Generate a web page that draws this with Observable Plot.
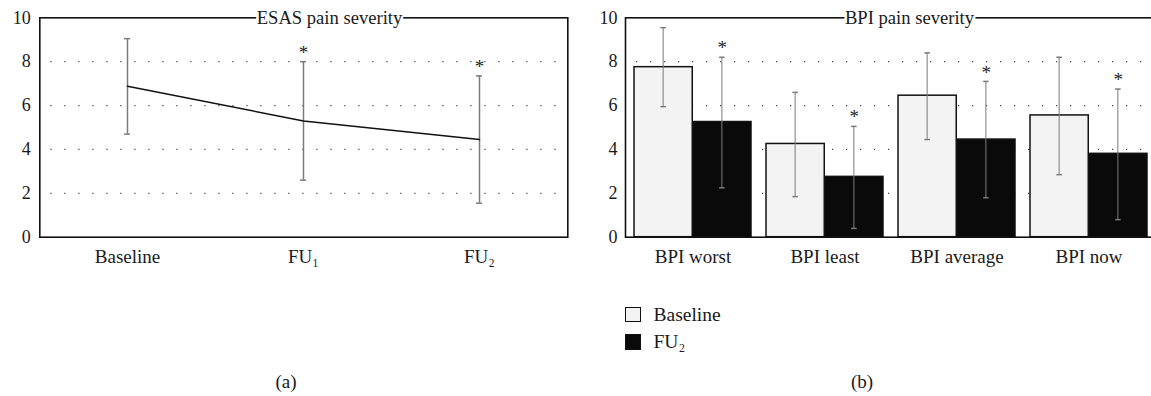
<!DOCTYPE html>
<html>
<head>
<meta charset="utf-8">
<script src="https://cdn.jsdelivr.net/npm/d3@7"></script>
<script src="https://cdn.jsdelivr.net/npm/@observablehq/plot@0.6"></script>
<style>
  html, body { margin: 0; padding: 0; background: #fff; }
  #wrap { position: relative; width: 1151px; height: 396px; overflow: hidden; font-family: "Liberation Serif", serif; color: #1a1a1a; }
  .panel { position: absolute; top: 0; }
  .panel svg { max-width: none !important; }
  .ptitle { position: absolute; background: #fff; font-size: 18.6px; line-height: 1; padding: 0 1px; transform: translate(-50%, -50%); white-space: nowrap; }
  .cap { position: absolute; font-size: 19px; line-height: 1; transform: translate(-50%, -50%); }
  .leg { position: absolute; left: 625px; font-size: 19.5px; line-height: 1; display: flex; align-items: center; height: 16px; }
  .sw { width: 15.5px; height: 15.5px; box-sizing: border-box; border: 1.2px solid #111; margin-right: 13px; flex: none; }
</style>
</head>
<body>
<div id="wrap">
  <div id="pa" class="panel" style="left:0; width:590px"></div>
  <div id="pb" class="panel" style="left:575px; width:600px"></div>
  <div class="ptitle" style="left:329.5px; top:17.5px">ESAS pain severity</div>
  <div class="ptitle" style="left:909.5px; top:17.5px">BPI pain severity</div>
  <div class="leg" style="top:306.5px"><div class="sw" style="background:#f2f3f2"></div><span>Baseline</span></div>
  <div class="leg" style="top:334px"><div class="sw" style="background:#0a0a0a"></div><span>FU₂</span></div>
  <div class="cap" style="left:286px; top:381px">(a)</div>
  <div class="cap" style="left:862px; top:381px">(b)</div>
</div>
<script>
// ---- Panel (a): ESAS pain severity ----
const esasLabels = ["Baseline", "FU₁", "FU₂"];
const esasMean = [6.88, 5.3, 4.45];
const esasLow = [4.7, 2.6, 1.55];
const esasHigh = [9.05, 8.0, 7.35];
const esasSig = [false, true, true];
const yTicks = [0, 2, 4, 6, 8, 10];
const gridValues = [2, 4, 6, 8];

// ---- Panel (b): BPI pain severity ----
const bpiCategories = ["BPI worst", "BPI least", "BPI average", "BPI now"];
const seriesNames = ["Baseline", "FU₂"];
const bpiBaselineMean = [7.75, 4.25, 6.45, 5.55];
const bpiBaselineLow = [5.95, 1.85, 4.45, 2.85];
const bpiBaselineHigh = [9.55, 6.6, 8.4, 8.2];
const bpiFu2Mean = [5.25, 2.75, 4.45, 3.8];
const bpiFu2Low = [2.25, 0.4, 1.8, 0.8];
const bpiFu2High = [8.2, 5.05, 7.1, 6.75];
const bpiFu2Sig = [true, true, true, true];

const esas = esasLabels.map((label, i) => ({label, mean: esasMean[i], low: esasLow[i], high: esasHigh[i], sig: esasSig[i]}));
const baseRows = bpiCategories.map((c, i) => ({cat: c, mean: bpiBaselineMean[i], low: bpiBaselineLow[i], high: bpiBaselineHigh[i]}));
const fuRows = bpiCategories.map((c, i) => ({cat: c, mean: bpiFu2Mean[i], low: bpiFu2Low[i], high: bpiFu2High[i], sig: bpiFu2Sig[i]}));

const font = {fontFamily: "Liberation Serif", fontSize: "18px", color: "#1a1a1a", background: "transparent", overflow: "visible", maxWidth: "none"};
const errColor = "#7a7a7a";
const gridStyle = {stroke: "#444", strokeWidth: 1.2, strokeDasharray: "1.2,12.8", strokeDashoffset: -11};

const H = 270;
const yTop = 17.3, yBottom = 236.7;

const xAxisOpts = {label: null, tickSize: 0, tickPadding: 12, fontSize: 19};

const plotA = Plot.plot({
  width: 590, height: H,
  marginLeft: 39.3, marginRight: 22.7, marginTop: yTop, marginBottom: H - yBottom,
  style: font,
  x: {type: "point", domain: esasLabels, padding: 0.5, label: null},
  y: {domain: [0, 10], label: null},
  marks: [
    Plot.ruleY(gridValues, gridStyle),
    Plot.axisX({...xAxisOpts}),
    Plot.axisY({ticks: yTicks, label: null, tickSize: 0, tickPadding: 9, fontSize: 18}),
    Plot.ruleX(esas, {x: "label", y1: "low", y2: "high", stroke: errColor, strokeWidth: 1.5}),
    Plot.ruleY(esas, {x1: "label", x2: "label", y: "high", insetLeft: -3, insetRight: -3, stroke: errColor, strokeWidth: 1.5}),
    Plot.ruleY(esas, {x1: "label", x2: "label", y: "low", insetLeft: -3, insetRight: -3, stroke: errColor, strokeWidth: 1.5}),
    Plot.line(esas, {x: "label", y: "mean", stroke: "#111", strokeWidth: 1.5}),
    Plot.text(esas.filter(d => d.sig), {x: "label", y: "high", text: () => "*", dy: -9, fontSize: 19, fill: "#222"}),
    Plot.frame({stroke: "#111", strokeWidth: 1.6})
  ]
});
document.getElementById("pa").append(plotA);

// Panel (b)
const WB = 600, mlB = 50, mrB = 19.6;
const padInner = 0.115, padOuter = 0.055;
const xb = Plot.scale({x: {type: "band", domain: bpiCategories, range: [mlB, WB - mrB], paddingInner: padInner, paddingOuter: padOuter}});
const bw = xb.bandwidth;
const half = bw / 2, q = bw / 4;

const plotB = Plot.plot({
  width: WB, height: H,
  marginLeft: mlB, marginRight: mrB, marginTop: yTop, marginBottom: H - yBottom,
  style: font,
  x: {type: "band", domain: bpiCategories, paddingInner: padInner, paddingOuter: padOuter, label: null},
  y: {domain: [0, 10], label: null},
  marks: [
    Plot.ruleY(gridValues, gridStyle),
    Plot.axisX({...xAxisOpts}),
    Plot.axisY({ticks: yTicks, label: null, tickSize: 0, tickPadding: 8, fontSize: 18}),
    Plot.barY(baseRows, {x: "cat", y: "mean", insetRight: half, fill: "#f2f3f2", stroke: "#111", strokeWidth: 1.5}),
    Plot.barY(fuRows, {x: "cat", y: "mean", insetLeft: half, fill: "#0a0a0a", stroke: "#111", strokeWidth: 1.5}),
    // error bars
    Plot.barY(baseRows, {x: "cat", y1: "low", y2: "high", insetLeft: q - 0.75, insetRight: 3 * q - 0.75, fill: errColor}),
    Plot.barY(fuRows, {x: "cat", y1: "low", y2: "high", insetLeft: 3 * q - 0.75, insetRight: q - 0.75, fill: errColor}),
    Plot.tickY(baseRows, {x: "cat", y: "high", insetLeft: q - 3, insetRight: 3 * q - 3, stroke: errColor, strokeWidth: 1.5}),
    Plot.tickY(baseRows, {x: "cat", y: "low", insetLeft: q - 3, insetRight: 3 * q - 3, stroke: errColor, strokeWidth: 1.5}),
    Plot.tickY(fuRows, {x: "cat", y: "high", insetLeft: 3 * q - 3, insetRight: q - 3, stroke: errColor, strokeWidth: 1.5}),
    Plot.tickY(fuRows, {x: "cat", y: "low", insetLeft: 3 * q - 3, insetRight: q - 3, stroke: errColor, strokeWidth: 1.5}),
    Plot.text(fuRows.filter(d => d.sig), {x: "cat", y: "high", text: () => "*", dx: q, dy: -9, fontSize: 19, fill: "#222"}),
    Plot.frame({stroke: "#111", strokeWidth: 1.6})
  ]
});
document.getElementById("pb").append(plotB);
</script>
</body>
</html>
